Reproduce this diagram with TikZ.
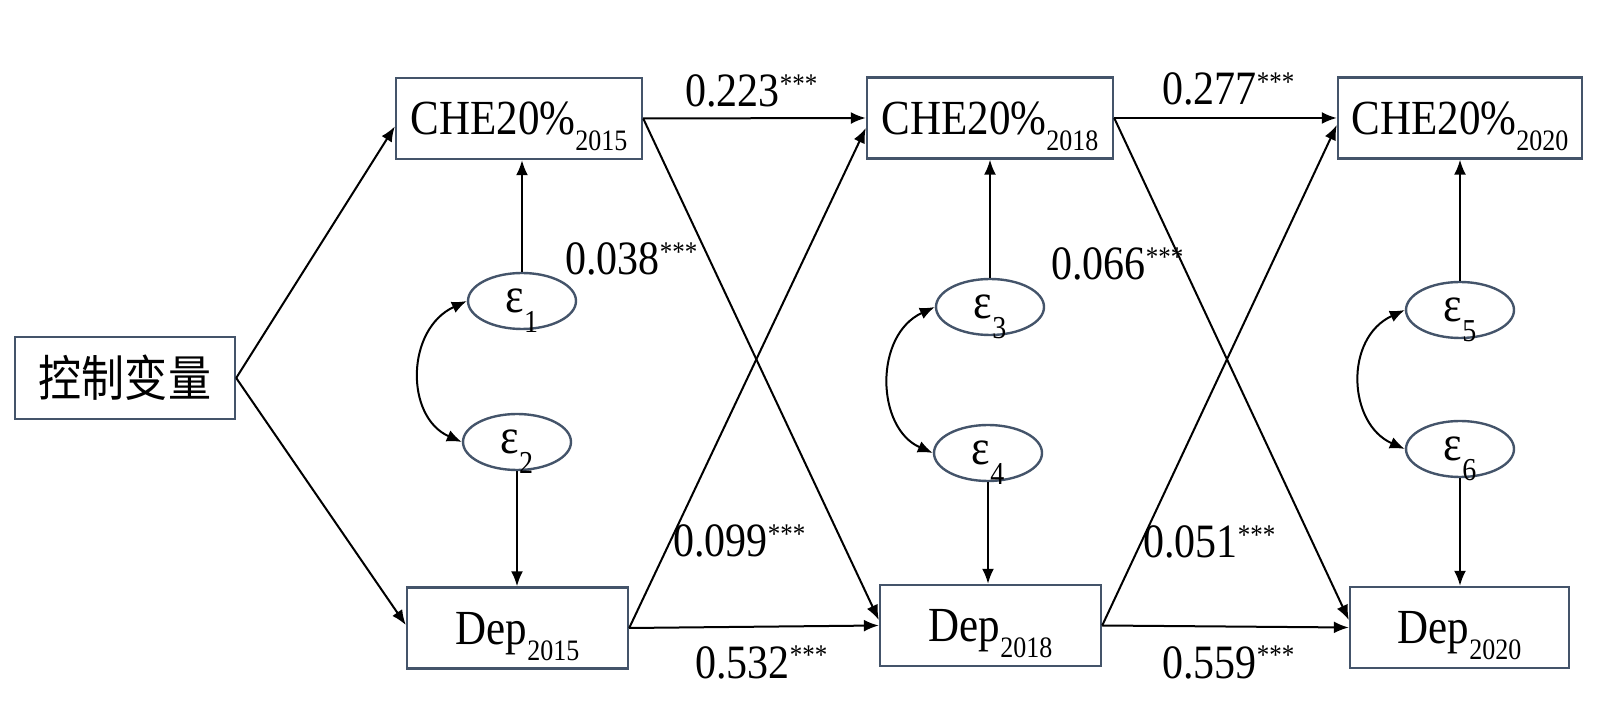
\documentclass[tikz,border=0pt]{standalone}
\usepackage{fontspec}
\usepackage{graphicx}
\setmainfont{Liberation Serif}
\newfontfamily\cjk{Noto Sans CJK SC}
\usetikzlibrary{arrows.meta,shapes.geometric}
\definecolor{boxblue}{RGB}{68,84,106}
\newcommand{\vs}[1]{\scalebox{1}[1.14]{#1}}
\newcommand{\lowsub}[1]{\raisebox{-7pt}{\fontsize{13}{13}\selectfont #1}}
\newcommand{\epssub}[1]{\raisebox{-8.5pt}{\fontsize{14}{14}\selectfont #1}}
\newcommand{\boxtxt}[2]{\vs{\raisebox{0pt}[\height][0pt]{\fontsize{21.5}{24}\selectfont #1\lowsub{#2}}}}
\newcommand{\epstxt}[1]{\vs{\raisebox{0pt}[\height][0pt]{\fontsize{22}{24}\selectfont ε\epssub{#1}}}}
\newcommand{\coef}[1]{\vs{\fontsize{21}{24}\selectfont #1\raisebox{6pt}{\fontsize{12.5}{12.5}\selectfont ***}}}
\tikzset{
  varbox/.style={draw=boxblue,line width=1.2pt,rectangle,inner sep=0pt,minimum height=40.5pt},
  errell/.style={draw=boxblue,line width=1.2pt,ellipse,inner sep=0pt,minimum width=54pt,minimum height=28pt},
  arr/.style={draw=black,line width=1pt,-{Latex[length=7.5pt,width=6pt]}},
  biarr/.style={draw=black,line width=1pt,{Latex[length=7.5pt,width=6pt]}-{Latex[length=7.5pt,width=6pt]}},
  coeflab/.style={anchor=base west,inner sep=0pt}
}
\begin{document}
\begin{tikzpicture}[x=0.5pt,y=-0.5pt]
\useasboundingbox (0,0) rectangle (1600,704);
% boxes
\node[varbox,minimum width=110pt,minimum height=41pt] (ctrl) at (125,378) {\vs{\fontsize{21.5}{24}\cjk 控制变量}};
\node[varbox,minimum width=123pt] (che15) at (519,118.5) {\boxtxt{CHE20\%}{2015}};
\node[varbox,minimum width=110.5pt] (dep15) at (517.5,628) {\boxtxt{Dep}{2015}};
\node[varbox,minimum width=123pt] (che18) at (990,118) {\boxtxt{CHE20\%}{2018}};
\node[varbox,minimum width=110.5pt] (dep18) at (990.5,625.5) {\boxtxt{Dep}{2018}};
\node[varbox,minimum width=122pt] (che20) at (1460,118) {\boxtxt{CHE20\%}{2020}};
\node[varbox,minimum width=109.5pt] (dep20) at (1459.5,627.5) {\boxtxt{Dep}{2020}};
% error terms
\node[errell] (e1) at (522,301) {\epstxt{1}};
\node[errell] (e2) at (517,442) {\epstxt{2}};
\node[errell] (e3) at (990,307) {\epstxt{3}};
\node[errell] (e4) at (988,453) {\epstxt{4}};
\node[errell] (e5) at (1460,310) {\epstxt{5}};
\node[errell] (e6) at (1460,449) {\epstxt{6}};
% control arrows
\draw[arr] (ctrl.east) -- ([yshift=-4pt]che15.west);
\draw[arr] (ctrl.east) -- ([yshift=1.5pt]dep15.west);
% error arrows
\draw[arr] (e1.north) -- (e1.north |- che15.south);
\draw[arr] (e2.south) -- (e2.south |- dep15.north);
\draw[arr] (e3.north) -- (e3.north |- che18.south);
\draw[arr] (e4.south) -- (e4.south |- dep18.north);
\draw[arr] (e5.north) -- (e5.north |- che20.south);
\draw[arr] (e6.south) -- (e6.south |- dep20.north);
% covariances
\draw[biarr] (e1.west) .. controls +(-61,28) and +(-57,-25) .. (e2.west);
\draw[biarr] (e3.west) .. controls +(-61,28) and +(-57,-25) .. (e4.west);
\draw[biarr] (e5.west) .. controls +(-61,28) and +(-57,-25) .. (e6.west);
% paths 2015 -> 2018
\draw[arr] (che15.east) -- (che18.west);
\draw[arr] (che15.east) -- ([yshift=2.75pt]dep18.west);
\draw[arr] (dep15.east) -- ([yshift=-5pt]che18.west);
\draw[arr] (dep15.east) -- (dep18.west);
% paths 2018 -> 2020
\draw[arr] (che18.east) -- (che20.west);
\draw[arr] (che18.east) -- ([yshift=3.75pt]dep20.west);
\draw[arr] (dep18.east) -- ([yshift=-3.5pt]che20.west);
\draw[arr] (dep18.east) -- (dep20.west);
% coefficients
\node[coeflab] (c1) at (685,107) {\coef{0.223}};
\node[coeflab] (c2) at (565,275) {\coef{0.038}};
\node[coeflab] (c3) at (673,557) {\coef{0.099}};
\node[coeflab] (c4) at (695,678) {\coef{0.532}};
\node[coeflab] (c5) at (1162,105) {\coef{0.277}};
\node[coeflab] (c6) at (1051,280) {\coef{0.066}};
\node[coeflab] (c7) at (1143,558) {\coef{0.051}};
\node[coeflab] (c8) at (1162,678) {\coef{0.559}};
\end{tikzpicture}
\end{document}
